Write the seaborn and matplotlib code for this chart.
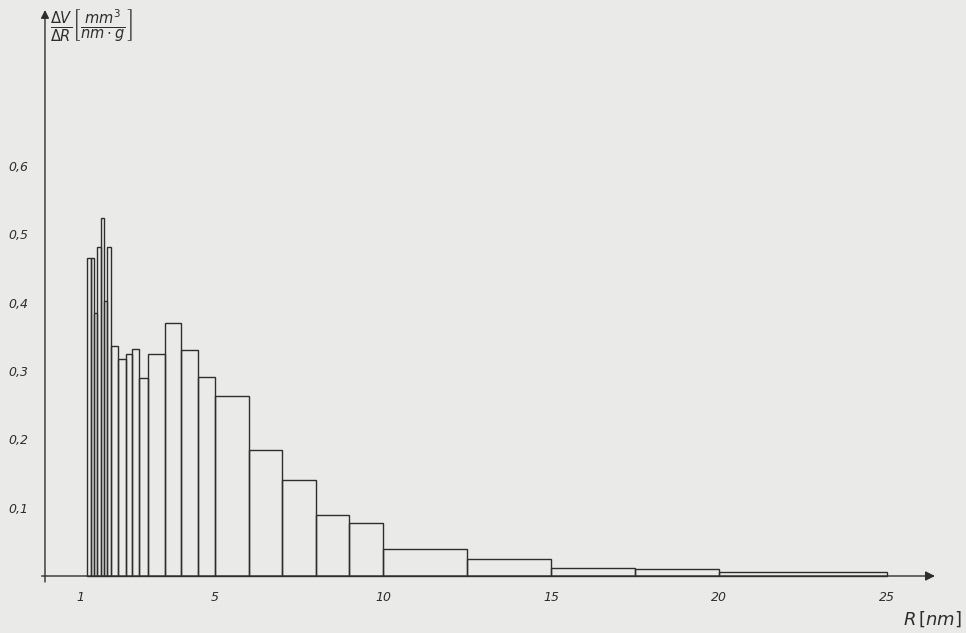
import numpy as np
import pandas as pd
import matplotlib
matplotlib.use("Agg")
import matplotlib.pyplot as plt
import seaborn as sns

# Pore-size distribution: bin edges along R [nm] and dV/dR per bin
bin_edges = [1.2, 1.3, 1.4, 1.5, 1.6, 1.7, 1.8, 1.9, 2.12, 2.34, 2.54, 2.75, 3.0,
             3.5, 4.0, 4.5, 5.0, 6.0, 7.0, 8.0, 9.0, 10.0, 12.5, 15.0, 17.5, 20.0, 25.0]
dv_dr = [0.465, 0.465, 0.385, 0.482, 0.524, 0.403, 0.482, 0.337, 0.317, 0.325,
         0.333, 0.290, 0.325, 0.371, 0.331, 0.292, 0.263, 0.184, 0.140, 0.089,
         0.078, 0.040, 0.025, 0.011, 0.010, 0.006]
x_ticks = [1, 5, 10, 15, 20, 25]
y_ticks = [0.1, 0.2, 0.3, 0.4, 0.5, 0.6]
y_tick_labels = ["0,1", "0,2", "0,3", "0,4", "0,5", "0,6"]

paper = "#eaeae8"
ink = "#2e2e2e"

sns.set_theme(style="white")
plt.rcParams["font.family"] = ["DejaVu Sans"]
plt.rcParams["mathtext.fontset"] = "dejavusans"

W, H = 966, 633
fig = plt.figure(figsize=(W / 100, H / 100), dpi=100, facecolor=paper)

# axes box in pixel terms: origin (R=0, y=0) at (47, 576)
px_per_R = 33.6
px_per_y = 683.0
left_px, right_px = 45, 935
top_px, bottom_px = 10, 582
ax = fig.add_axes([left_px / W, 1 - bottom_px / H,
                   (right_px - left_px) / W, (bottom_px - top_px) / H])
ax.set_facecolor(paper)

df = pd.DataFrame({
    "R": [(a + b) / 2 for a, b in zip(bin_edges[:-1], bin_edges[1:])],
    "dVdR": dv_dr,
})
sns.histplot(data=df, x="R", weights="dVdR", bins=bin_edges, stat="count",
             fill=False, color=ink, linewidth=1.0, ax=ax)

ax.set_xlim((left_px - 47) / px_per_R, (right_px - 47) / px_per_R)
ax.set_ylim(-(bottom_px - 576) / px_per_y, (576 - top_px) / px_per_y)

for s in ax.spines.values():
    s.set_visible(False)

# hand-drawn style axes with arrow heads
x0, x1 = ax.get_xlim()
y0, y1 = ax.get_ylim()
ax.annotate("", xy=(x1, 0), xytext=(x0 - 0.1, 0),
            arrowprops=dict(arrowstyle="-|>", color=ink, lw=1.0,
                            mutation_scale=14, shrinkA=0, shrinkB=0),
            annotation_clip=False)
ax.annotate("", xy=(-0.06, y1), xytext=(-0.06, y0),
            arrowprops=dict(arrowstyle="-|>", color=ink, lw=1.0,
                            mutation_scale=12, shrinkA=0, shrinkB=0),
            annotation_clip=False)

ax.set_xticks(x_ticks)
ax.set_xticklabels([str(t) for t in x_ticks], fontsize=9, style="italic",
                   color=ink)
ax.set_yticks(y_ticks)
ax.set_yticklabels(y_tick_labels, fontsize=9, style="italic", color=ink)
ax.tick_params(axis="x", direction="inout", length=5, width=0.8, colors=ink,
               pad=4, labelcolor=ink)
ax.tick_params(axis="y", direction="inout", length=4, width=0.8, colors=ink,
               pad=10, labelcolor=ink)
ax.set_xlabel("")
ax.set_ylabel("")

fig.text(50 / W, 1 - 26 / H,
         r"$\frac{\Delta V}{\Delta R}\left[\frac{mm^3}{nm\cdot g}\right]$",
         fontsize=15, color=ink, ha="left", va="center")
fig.text(962 / W, 1 - 619 / H, r"$R\,[nm]$", fontsize=13, color=ink,
         ha="right", va="center")

fig.savefig("out.png", dpi=100, facecolor=paper)
